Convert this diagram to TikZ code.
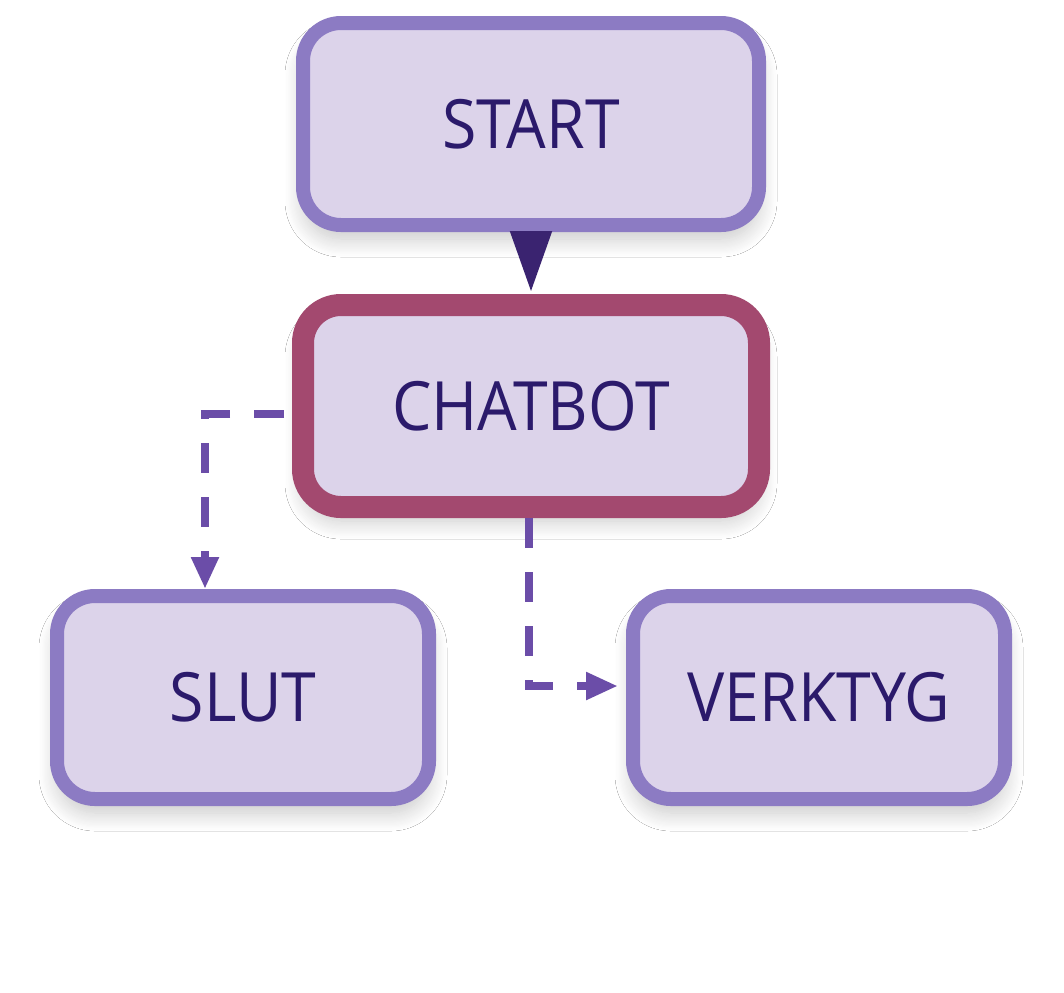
\documentclass[tikz,border=0pt]{standalone}
\usepackage{fontspec}
\setmainfont[FakeStretch=0.92]{Open Sans}
\usetikzlibrary{arrows.meta,shadows.blur}
\definecolor{boxfill}{HTML}{DCD3EA}
\definecolor{boxline}{HTML}{8C7BC3}
\definecolor{botline}{HTML}{A3496F}
\definecolor{boxtext}{HTML}{2B1A6B}
\definecolor{flowline}{HTML}{6B4DA8}
\definecolor{headline}{HTML}{3A2370}
\tikzset{
  stepbox/.style={rectangle, rounded corners=19pt, draw=boxline, line width=7pt,
    fill=boxfill, text=boxtext, inner sep=0pt,
    font=\fontsize{34}{40}\selectfont,
    blur shadow={shadow xshift=0pt, shadow yshift=-7pt, shadow opacity=22,
      shadow blur radius=9pt, shadow blur steps=16}},
  botbox/.style={stepbox, draw=botline, line width=11pt},
  flow/.style={draw=flowline, line width=4pt, dash pattern=on 15pt off 12pt,
    -{Triangle[length=16pt,width=13pt]}},
}
\begin{document}
\begin{tikzpicture}[x=0.5pt,y=-0.5pt]  % ------ Chatbot flow --------------
    \useasboundingbox[fill=white] (0,0) rectangle (1064,992);
    \node[stepbox, minimum width=228pt, minimum height=101pt] (start) at (531,124) {START};
    \node[botbox, minimum width=228pt, minimum height=101pt] (chatbot) at (531,406) {CHATBOT};
    \node[stepbox, minimum width=186pt, minimum height=101.5pt] (slut) at (243,697.5) {SLUT};
    \node[stepbox, minimum width=186pt, minimum height=101.5pt] (verktyg) at (819,697.5) {VERKTYG};

    \coordinate (k1) at (205,414);
    \coordinate (k2) at (529,686);

    \draw[headline, line width=1pt, -{Triangle[length=30pt,width=21pt]}, shorten >=1.5pt]
        (start.south) -- (chatbot.north);
    \draw[flow, shorten <=4pt] (chatbot.west |- k1) -- (k1) -- (k1 |- slut.north);
    \draw[flow, shorten >=4pt] (k2 |- chatbot.south) -- (k2) -- (k2 -| verktyg.west);
\end{tikzpicture}
\end{document}
